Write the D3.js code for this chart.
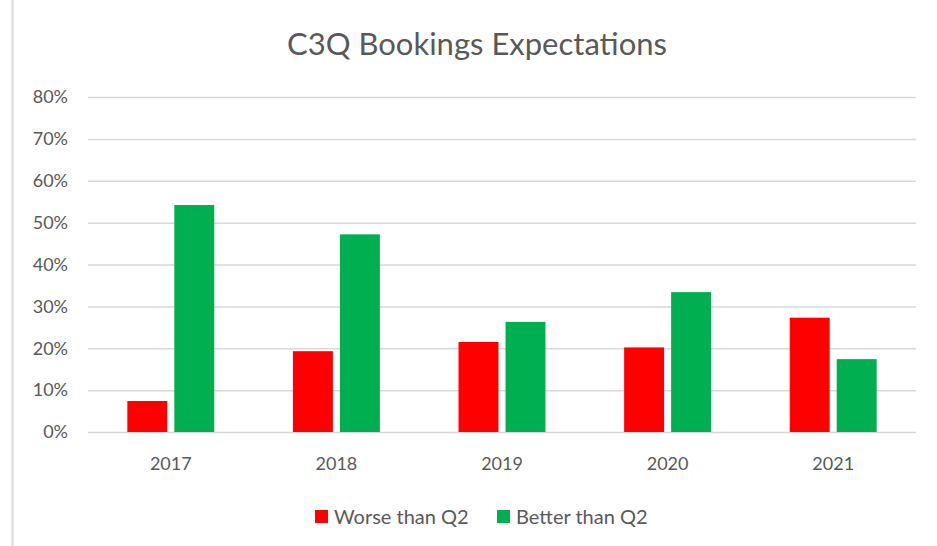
<!DOCTYPE html>
<html>
<head>
<meta charset="utf-8">
<script src="https://cdn.jsdelivr.net/npm/d3@7"></script>
<style>
  body { margin: 0; background: #fff; }
  text { font-family: Lato, "Liberation Sans", sans-serif; fill: #595959; }
</style>
</head>
<body>
<svg id="chart" width="937" height="546"></svg>
<script>
// chart data
const years = ["2017", "2018", "2019", "2020", "2021"];
const seriesNames = ["Worse than Q2", "Better than Q2"];
const seriesColors = ["#ff0000", "#00b050"];
const worse = [0.074, 0.193, 0.215, 0.202, 0.273];
const better = [0.542, 0.472, 0.263, 0.334, 0.174];
const yTicks = [0, 0.1, 0.2, 0.3, 0.4, 0.5, 0.6, 0.7, 0.8];

const svg = d3.select("#chart");
const plot = { left: 88, right: 916, top: 97, bottom: 432 };

// outer frame line on the left
svg.append("line")
  .attr("x1", 12.5).attr("x2", 12.5)
  .attr("y1", 0).attr("y2", 546)
  .attr("stroke", "#d9d9d9").attr("stroke-width", 2);

svg.append("text")
  .attr("x", 477).attr("y", 55)
  .attr("text-anchor", "middle")
  .style("font-size", "31px")
  .text("C3Q Bookings Expectations");

const y = d3.scaleLinear().domain([0, 0.8]).range([plot.bottom, plot.top]);

const x0 = d3.scaleBand().domain(years)
  .range([plot.left, plot.right])
  .paddingInner(0.475).paddingOuter(0.2375);

const x1 = d3.scaleBand().domain(seriesNames)
  .range([0, x0.bandwidth()])
  .paddingInner(0.15);

// gridlines + y labels
const yAxis = d3.axisLeft(y)
  .tickValues(yTicks)
  .tickFormat(d3.format(".0%"))
  .tickSize(-(plot.right - plot.left))
  .tickPadding(20);

const gy = svg.append("g")
  .attr("transform", `translate(${plot.left},0)`)
  .call(yAxis);
gy.select(".domain").remove();
gy.selectAll(".tick line").attr("stroke", "#d9d9d9").attr("stroke-width", 1.5);
gy.selectAll(".tick text").style("font-size", "18px").attr("fill", "#595959");

// x labels
const xAxis = d3.axisBottom(x0).tickSize(0).tickPadding(25);
const gx = svg.append("g")
  .attr("transform", `translate(0,${plot.bottom})`)
  .call(xAxis);
gx.select(".domain").remove();
gx.selectAll(".tick text").style("font-size", "18px").attr("fill", "#595959");

// bars
const rows = years.map((yr, i) => ({ year: yr, values: [worse[i], better[i]] }));

svg.append("g").selectAll("g")
  .data(rows)
  .join("g")
  .attr("transform", d => `translate(${x0(d.year)},0)`)
  .selectAll("rect")
  .data(d => d.values.map((v, j) => ({ name: seriesNames[j], value: v, color: seriesColors[j] })))
  .join("rect")
  .attr("x", d => x1(d.name))
  .attr("width", x1.bandwidth())
  .attr("y", d => y(d.value))
  .attr("height", d => y(0) - y(d.value))
  .attr("fill", d => d.color);

// legend
const legendItems = [{ x: 315 }, { x: 497 }];
const lg = svg.append("g").selectAll("g")
  .data(seriesNames)
  .join("g")
  .attr("transform", (d, i) => `translate(${legendItems[i].x},510)`);
lg.append("rect")
  .attr("width", 13).attr("height", 13)
  .attr("fill", (d, i) => seriesColors[i]);
lg.append("text")
  .attr("x", 19).attr("y", 13.5)
  .style("font-size", "20px")
  .text(d => d);
</script>
</body>
</html>
